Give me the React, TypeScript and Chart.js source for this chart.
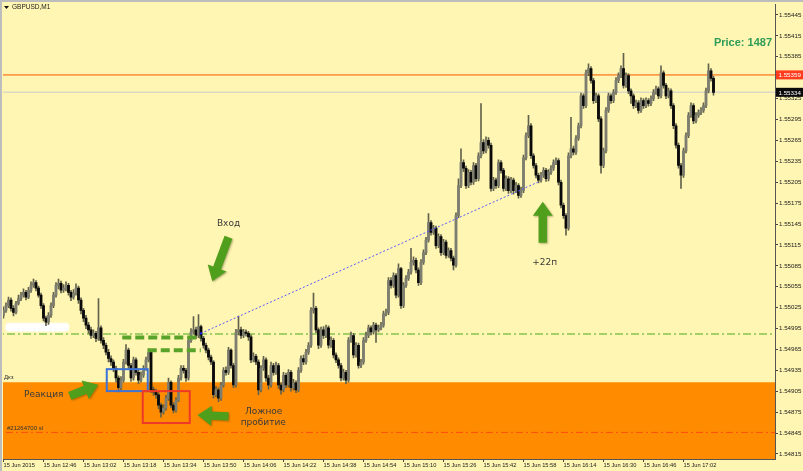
import React, { useEffect, useRef } from 'react';
import { Chart, registerables } from 'chart.js';

Chart.register(...registerables);

// ---- data (prices are stored in points = 0.00001 above BASE) ----
const SYMBOL = 'GBPUSD,M1';
const BASE = 1.548;
const OPEN_FIRST = 214;
const CLOSE = [
  221, 228, 236, 224, 218, 231, 238, 243, 247, 240,
  250, 257, 261, 253, 243, 228, 210, 204, 214, 228,
  243, 257, 260, 250, 253, 257, 247, 240, 246, 253,
  236, 221, 210, 200, 193, 185, 188, 181, 196, 178,
  171, 161, 152, 147, 138, 124, 110, 121, 147, 164,
  142, 124, 150, 132, 121, 128, 138, 150, 161, 107,
  104, 100, 85, 75, 81, 95, 118, 85, 78, 92,
  124, 138, 135, 124, 178, 190, 193, 185, 198, 181,
  171, 164, 154, 147, 100, 107, 95, 114, 135, 132,
  164, 142, 114, 190, 193, 185, 190, 188, 183, 150,
  155, 147, 107, 138, 150, 124, 114, 142, 132, 142,
  114, 107, 128, 114, 132, 110, 117, 107, 135, 152,
  147, 161, 171, 221, 224, 193, 171, 193, 185, 196,
  171, 178, 157, 150, 142, 124, 132, 121, 178, 185,
  157, 171, 142, 147, 178, 185, 196, 190, 200, 193,
  196, 200, 216, 218, 264, 257, 271, 243, 281, 228,
  257, 267, 276, 290, 293, 279, 261, 290, 304, 322,
  347, 333, 339, 314, 327, 304, 319, 300, 307, 296,
  286, 357, 400, 433, 425, 400, 419, 405, 429, 410,
  443, 462, 450, 465, 458, 396, 408, 400, 433, 422,
  396, 410, 393, 408, 393, 400, 386, 393, 440, 472,
  486, 443, 429, 415, 408, 415, 422, 410, 419, 425,
  433, 436, 405, 372, 357, 339, 443, 453, 448, 468,
  486, 529, 515, 562, 568, 551, 522, 529, 496, 429,
  450, 508, 529, 522, 534, 551, 558, 568, 544, 558,
  536, 529, 515, 519, 508, 522, 515, 522, 518, 525,
  534, 539, 529, 562, 544, 529, 536, 515, 486, 458,
  429, 415, 450, 472, 501, 515, 493, 501, 505, 508,
  515, 536, 565, 554, 534,
];
const HIGH = [
  226, 232, 240, 239, 228, 234, 243, 247, 252, 250,
  254, 262, 266, 264, 256, 246, 231, 213, 218, 232,
  247, 261, 266, 263, 258, 262, 260, 250, 251, 259,
  256, 239, 224, 214, 204, 197, 193, 191, 238, 199,
  182, 174, 165, 156, 150, 141, 127, 126, 151, 172,
  167, 145, 154, 153, 135, 133, 142, 154, 166, 163,
  111, 108, 103, 88, 86, 99, 124, 120, 89, 96,
  128, 142, 142, 138, 182, 195, 212, 197, 215, 200,
  184, 174, 167, 157, 149, 112, 110, 118, 139, 140,
  168, 166, 145, 194, 213, 197, 194, 193, 191, 186,
  160, 158, 150, 142, 155, 153, 128, 147, 145, 147,
  145, 117, 132, 131, 136, 135, 122, 120, 139, 156,
  157, 165, 175, 225, 246, 227, 196, 197, 198, 200,
  199, 183, 181, 160, 153, 145, 137, 135, 182, 190,
  188, 175, 174, 151, 182, 190, 200, 199, 204, 203,
  200, 204, 220, 223, 268, 268, 275, 274, 288, 283,
  261, 271, 280, 310, 298, 296, 282, 294, 308, 326,
  360, 350, 343, 342, 331, 330, 323, 322, 311, 310,
  299, 361, 410, 453, 437, 428, 423, 422, 433, 432,
  447, 518, 466, 470, 469, 461, 412, 411, 437, 436,
  425, 414, 413, 412, 411, 405, 403, 398, 444, 476,
  501, 489, 446, 432, 418, 419, 426, 425, 423, 429,
  437, 440, 439, 408, 375, 360, 447, 498, 457, 472,
  490, 533, 532, 566, 575, 571, 554, 533, 532, 499,
  454, 512, 533, 532, 538, 555, 562, 572, 590, 562,
  561, 539, 532, 523, 522, 526, 525, 526, 525, 529,
  538, 543, 542, 572, 565, 547, 540, 539, 518, 489,
  461, 432, 454, 476, 505, 519, 518, 505, 509, 512,
  519, 540, 575, 568, 557,
];
const LOW = [
  210, 218, 225, 220, 213, 216, 229, 235, 240, 236,
  238, 247, 254, 249, 240, 224, 206, 199, 201, 211,
  225, 240, 252, 246, 247, 249, 243, 235, 237, 243,
  231, 216, 205, 195, 188, 181, 182, 176, 178, 174,
  166, 157, 147, 142, 133, 118, 104, 107, 118, 144,
  138, 119, 121, 128, 116, 118, 125, 135, 147, 103,
  99, 95, 80, 68, 72, 78, 92, 81, 74, 75,
  90, 121, 131, 119, 121, 175, 187, 181, 182, 177,
  167, 160, 150, 143, 95, 97, 90, 92, 111, 128,
  129, 138, 110, 111, 186, 181, 182, 184, 178, 146,
  147, 143, 100, 104, 135, 119, 108, 111, 128, 129,
  109, 101, 104, 110, 111, 105, 107, 103, 104, 132,
  143, 144, 158, 168, 217, 189, 166, 168, 181, 182,
  167, 168, 153, 146, 138, 120, 121, 116, 118, 175,
  153, 154, 138, 139, 144, 175, 182, 186, 187, 175,
  190, 193, 197, 213, 215, 253, 254, 239, 240, 224,
  225, 254, 264, 273, 286, 275, 257, 258, 287, 301,
  319, 329, 330, 310, 311, 300, 301, 296, 297, 292,
  279, 283, 354, 397, 420, 396, 397, 401, 402, 406,
  407, 440, 446, 447, 454, 392, 393, 396, 397, 418,
  392, 393, 389, 390, 388, 390, 382, 383, 390, 437,
  469, 439, 425, 411, 404, 405, 412, 406, 407, 416,
  422, 430, 401, 368, 353, 329, 336, 440, 444, 445,
  465, 483, 511, 512, 558, 547, 518, 519, 492, 418,
  426, 447, 505, 518, 519, 531, 548, 555, 540, 541,
  532, 518, 511, 512, 504, 505, 511, 512, 514, 515,
  522, 531, 525, 526, 540, 525, 526, 511, 482, 454,
  425, 396, 412, 447, 469, 498, 489, 490, 498, 502,
  505, 512, 533, 550, 530,
];

const X_TICKS = [0, 16, 32, 48, 64, 80, 96, 112, 128, 144, 160, 176, 192, 208, 224, 240, 256, 272];
const X_LABELS = [
  '15 Jun 2015', '15 Jun 12:46', '15 Jun 13:02', '15 Jun 13:18', '15 Jun 13:34', '15 Jun 13:50',
  '15 Jun 14:06', '15 Jun 14:22', '15 Jun 14:38', '15 Jun 14:54', '15 Jun 15:10', '15 Jun 15:26',
  '15 Jun 15:42', '15 Jun 15:58', '15 Jun 16:14', '15 Jun 16:30', '15 Jun 16:46', '15 Jun 17:02',
];
const Y_LABELS = [
  '1.54815', '1.54845', '1.54875', '1.54905', '1.54935', '1.54965', '1.54995', '1.55025',
  '1.55055', '1.55085', '1.55115', '1.55145', '1.55175', '1.55205', '1.55235', '1.55265',
  '1.55295', '1.55325', '1.55355', '1.55385', '1.55415', '1.55445',
];

const Y_MIN = 1.548078;
const Y_MAX = 1.554597;
const X_MIN = -0.2;
const X_MAX = 308.6;

const ZONE_TOP = 1.54918;
const RES_LEVEL = 1.55359;
const BID = 1.55334;
const ENTRY_LEVEL = 1.54987;
const SL_LEVEL = 1.54846;
const TREND = [{ x: 78.9, y: 1.54988 }, { x: 213.7, y: 1.55205 }];
const ENTRY_DASH_1 = [{ x: 47.5, y: 1.54982 }, { x: 78.9, y: 1.54982 }];
const ENTRY_DASH_2 = [{ x: 57.7, y: 1.54964 }, { x: 78.9, y: 1.54964 }];

const BOX_BLUE = { x1: 41.3, x2: 57.7, y1: 1.549367, y2: 1.549052 };
const BOX_RED = { x1: 55.7, x2: 74.5, y1: 1.549052, y2: 1.548594 };
const ERASED = { x1: 0.9, x2: 26.1, y1: 1.550026, y2: 1.549912 };

const ARROWS = [
  { x1: 26.5, y1: 1.548985, x2: 37.9, y2: 1.549145 },
  { x1: 90.0, y1: 1.548690, x2: 77.6, y2: 1.548708 },
  { x1: 90.0, y1: 1.551260, x2: 83.5, y2: 1.550630 },
  { x1: 215.7, y1: 1.551180, x2: 215.7, y2: 1.551770 },
];
const NOTES = [
  { text: 'Вход', x: 90, y: 1.551459 },
  { text: 'Реакция', x: 16.1, y: 1.548995 },
  { text: 'Ложное', x: 104.1, y: 1.548756 },
  { text: 'пробитие', x: 103.9, y: 1.548598 },
  { text: '+22п', x: 216.5, y: 1.55089 },
];
const PRICE_TEXT = 'Price: 1487';
const ZONE_LABEL = 'Дкз';
const SL_LABEL = '#21264700 sl';

// ---- styles ----
const BG = '#fff6b3';
const BULL = '#7e7e70';
const BEAR = '#0a0a0a';
const WICK = '#62624c';
const ARROW_GREEN = '#4f9f1d';

function drawArrow(ctx: CanvasRenderingContext2D, x1: number, y1: number, x2: number, y2: number) {
  const dx = x2 - x1, dy = y2 - y1;
  const len = Math.hypot(dx, dy);
  const ux = dx / len, uy = dy / len;
  const nx = -uy, ny = ux;
  const sw = 4.2, hl = 14, hw = 10;
  const bx = x2 - ux * hl, by = y2 - uy * hl;
  ctx.beginPath();
  ctx.moveTo(x1 + nx * sw, y1 + ny * sw);
  ctx.lineTo(bx + nx * sw, by + ny * sw);
  ctx.lineTo(bx + nx * hw, by + ny * hw);
  ctx.lineTo(x2, y2);
  ctx.lineTo(bx - nx * hw, by - ny * hw);
  ctx.lineTo(bx - nx * sw, by - ny * sw);
  ctx.lineTo(x1 - nx * sw, y1 - ny * sw);
  ctx.closePath();
  ctx.fill();
}

export default function App() {
  const ref = useRef<HTMLCanvasElement>(null);

  useEffect(() => {
    document.body.style.margin = '0';
    const canvas = ref.current;
    if (!canvas) return;
    const P = (v: number) => +(BASE + v / 1e5).toFixed(5);
    const OPEN = CLOSE.map((_, i) => (i === 0 ? OPEN_FIRST : CLOSE[i - 1]));
    const wickData = CLOSE.map((_, i) => ({ x: i, y: [P(LOW[i]), P(HIGH[i])] }));
    const bodyData = CLOSE.map((c, i) => ({ x: i, y: [P(OPEN[i]), P(c)] }));
    const bodyColors = CLOSE.map((c, i) => (c >= OPEN[i] ? BULL : BEAR));

    const hline = (y: number, color: string, width: number, dash: number[], order: number) => ({
      type: 'line' as const,
      data: [{ x: -5, y }, { x: 320, y }],
      borderColor: color,
      borderWidth: width,
      borderDash: dash,
      pointRadius: 0,
      fill: false,
      order,
    });

    const overlay = {
      id: 'overlay',
      beforeDraw(chart: any) {
        const c = chart.ctx;
        c.save();
        c.fillStyle = BG;
        c.fillRect(0, 0, chart.width, chart.height);
        c.restore();
      },
      beforeDatasetsDraw(chart: any) {
        const c = chart.ctx;
        const X = (v: number) => chart.scales.x.getPixelForValue(v);
        const Y = (v: number) => chart.scales.y.getPixelForValue(v);
        c.save();
        c.fillStyle = '#ffffff';
        c.shadowColor = 'rgba(255,255,255,0.9)';
        c.shadowBlur = 3;
        const x1 = X(ERASED.x1), x2 = X(ERASED.x2), y1 = Y(ERASED.y1), y2 = Y(ERASED.y2);
        c.beginPath();
        (c as any).roundRect(x1, y1, x2 - x1, y2 - y1, 3);
        c.fill();
        c.restore();
      },
      afterDatasetsDraw(chart: any) {
        const c = chart.ctx as CanvasRenderingContext2D;
        const X = (v: number) => chart.scales.x.getPixelForValue(v);
        const Y = (v: number) => chart.scales.y.getPixelForValue(v);
        c.save();
        // boxes
        c.lineWidth = 2;
        c.strokeStyle = '#3d72d6';
        c.strokeRect(X(BOX_BLUE.x1), Y(BOX_BLUE.y1), X(BOX_BLUE.x2) - X(BOX_BLUE.x1), Y(BOX_BLUE.y2) - Y(BOX_BLUE.y1));
        c.strokeStyle = '#f03828';
        c.strokeRect(X(BOX_RED.x1), Y(BOX_RED.y1), X(BOX_RED.x2) - X(BOX_RED.x1), Y(BOX_RED.y2) - Y(BOX_RED.y1));
        // trend start dot
        c.fillStyle = '#2020ff';
        c.fillRect(X(TREND[0].x) - 1, Y(TREND[0].y) - 1, 2, 2);
        // arrows
        c.fillStyle = ARROW_GREEN;
        c.shadowColor = 'rgba(40,40,0,0.35)';
        c.shadowBlur = 2;
        c.shadowOffsetX = 1;
        c.shadowOffsetY = 1;
        ARROWS.forEach((a) => drawArrow(c, X(a.x1), Y(a.y1), X(a.x2), Y(a.y2)));
        c.shadowColor = 'transparent';
        c.shadowBlur = 0;
        c.shadowOffsetX = 0;
        c.shadowOffsetY = 0;
        // notes
        c.font = '9px "DejaVu Sans"';
        c.textAlign = 'center';
        c.textBaseline = 'middle';
        c.fillStyle = '#3a3a3a';
        NOTES.forEach((n) => c.fillText(n.text, X(n.x), Y(n.y)));
        // small labels
        c.font = '6px "Liberation Sans"';
        c.textAlign = 'left';
        c.textBaseline = 'alphabetic';
        c.fillStyle = '#333';
        c.fillText(ZONE_LABEL, chart.chartArea.left + 1, Y(ZONE_TOP) - 3);
        c.fillText(SL_LABEL, chart.chartArea.left + 4, Y(SL_LEVEL) - 2);
        // price text
        c.font = 'bold 11px "Liberation Sans"';
        c.textAlign = 'right';
        c.textBaseline = 'middle';
        c.fillStyle = '#2f9c58';
        c.fillText(PRICE_TEXT, chart.chartArea.right - 3, chart.chartArea.top + 38);
        c.restore();
      },
      afterDraw(chart: any) {
        const c = chart.ctx as CanvasRenderingContext2D;
        const Y = (v: number) => chart.scales.y.getPixelForValue(v);
        const ca = chart.chartArea;
        c.save();
        const tag = (v: number, text: string, bg: string) => {
          const y = Y(v);
          c.fillStyle = bg;
          c.fillRect(ca.right + 1, y - 4.5, 27, 9);
          c.fillStyle = '#ffffff';
          c.font = '6.2px "Liberation Sans"';
          c.textAlign = 'left';
          c.textBaseline = 'middle';
          c.fillText(text, ca.right + 3.5, y + 0.5);
        };
        tag(RES_LEVEL, RES_LEVEL.toFixed(5), '#ff3c1e');
        tag(BID, BID.toFixed(5), '#0a0a0a');
        // window frame
        c.fillStyle = '#bdbdbd';
        c.fillRect(0, 0, chart.width, 2);
        c.fillRect(0, 0, 2, chart.height);
        // title
        c.fillStyle = '#111';
        c.beginPath();
        c.moveTo(4, 6);
        c.lineTo(9, 6);
        c.lineTo(6.5, 9);
        c.closePath();
        c.fill();
        c.font = '6.5px "Liberation Sans"';
        c.textAlign = 'left';
        c.textBaseline = 'middle';
        c.fillStyle = '#222';
        c.fillText(SYMBOL, 12, 7.5);
        c.restore();
      },
    };

    const chart = new Chart(canvas, {
      type: 'bar',
      data: {
        datasets: [
          {
            type: 'line',
            data: [{ x: -5, y: ZONE_TOP }, { x: 320, y: ZONE_TOP }],
            borderWidth: 0,
            borderColor: 'rgba(0,0,0,0)',
            backgroundColor: '#ff8c00',
            fill: 'start',
            pointRadius: 0,
            order: 20,
          } as any,
          hline(SL_LEVEL, '#ff4a10', 1, [7, 3, 2, 3], 15),
          hline(ENTRY_LEVEL, '#86c24e', 1.5, [8, 3, 2, 3], 15),
          hline(RES_LEVEL, '#ff9a48', 1.6, [], 15),
          hline(BID, '#dcd8c6', 1.6, [], 15),
          {
            data: wickData,
            backgroundColor: WICK,
            barThickness: 1,
            grouped: false,
            minBarLength: 1,
            order: 6,
          } as any,
          {
            data: bodyData,
            backgroundColor: bodyColors,
            barThickness: 2.2,
            grouped: false,
            minBarLength: 1,
            order: 5,
          } as any,
          {
            type: 'line',
            data: ENTRY_DASH_1,
            borderColor: '#5aa32b',
            borderWidth: 4,
            borderDash: [9, 4],
            pointRadius: 0,
            fill: false,
            order: 3,
          } as any,
          {
            type: 'line',
            data: ENTRY_DASH_2,
            borderColor: '#5aa32b',
            borderWidth: 4,
            borderDash: [9, 4],
            pointRadius: 0,
            fill: false,
            order: 3,
          } as any,
          {
            type: 'line',
            data: TREND,
            borderColor: '#5a5aff',
            borderWidth: 1,
            borderDash: [2, 2],
            pointRadius: 0,
            fill: false,
            order: 2,
          } as any,
        ],
      },
      options: {
        animation: false,
        responsive: false,
        devicePixelRatio: 1,
        events: [],
        layout: { padding: { left: 3, top: 4, right: 0, bottom: 0 } },
        plugins: {
          legend: { display: false },
          tooltip: { enabled: false },
          filler: { drawTime: 'beforeDatasetDraw' },
        },
        scales: {
          x: {
            type: 'linear',
            min: X_MIN,
            max: X_MAX,
            offset: false,
            afterFit: (s: any) => { s.height = 12; },
            afterBuildTicks: (s: any) => { s.ticks = X_TICKS.map((v) => ({ value: v })); },
            grid: { display: true, drawOnChartArea: false, drawTicks: true, tickLength: 3, color: '#444', offset: false },
            border: { display: true, color: '#555' },
            ticks: {
              autoSkip: false,
              maxRotation: 0,
              minRotation: 0,
              align: 'start',
              padding: 0,
              color: '#1a1a1a',
              font: { size: 5.7, family: '"Liberation Sans"' },
              callback: (_v: any, i: number) => X_LABELS[i],
            },
          },
          y: {
            type: 'linear',
            position: 'right',
            min: Y_MIN,
            max: Y_MAX,
            afterFit: (s: any) => { s.width = 28; },
            afterBuildTicks: (s: any) => { s.ticks = Y_LABELS.map((t) => ({ value: parseFloat(t) })); },
            grid: { display: true, drawOnChartArea: false, drawTicks: true, tickLength: 3, color: '#444' },
            border: { display: true, color: '#555' },
            ticks: {
              autoSkip: false,
              padding: 1,
              color: '#1a1a1a',
              font: { size: 6.2, family: '"Liberation Sans"' },
              callback: (v: any) => Number(v).toFixed(5),
            },
          },
        },
      } as any,
      plugins: [overlay],
    });

    return () => chart.destroy();
  }, []);

  return <canvas ref={ref} width={803} height={471} style={{ display: 'block' }} />;
}
